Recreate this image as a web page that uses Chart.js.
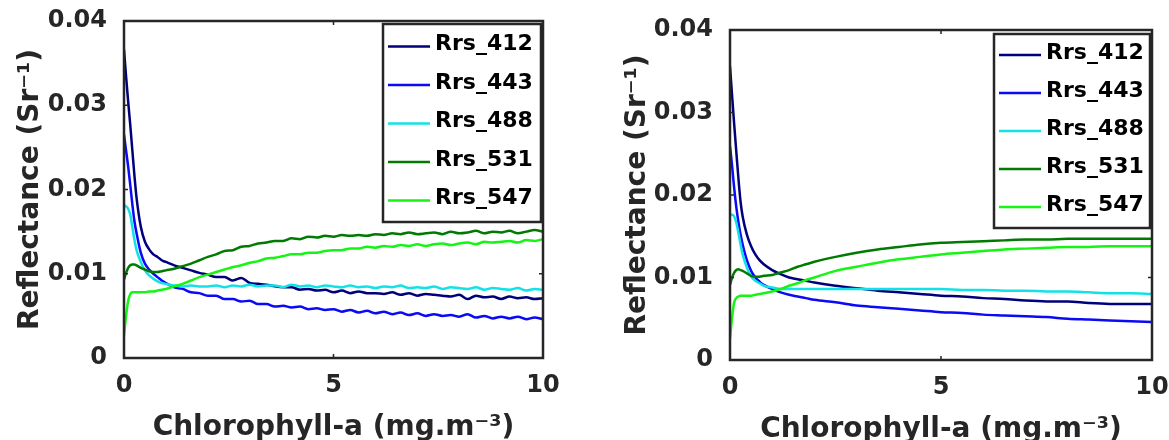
<!DOCTYPE html>
<html>
<head>
<meta charset="utf-8">
<script src="https://cdn.jsdelivr.net/npm/chart.js@4.4.1/dist/chart.umd.min.js"></script>
<style>
  html, body { margin: 0; padding: 0; background: #fff; }
  #wrap { position: relative; width: 1169px; height: 440px; }
  .panel { position: absolute; top: 0; width: 585px; height: 440px; }
</style>
</head>
<body>
<div id="wrap">
  <div class="panel" style="left:0"><canvas id="left" width="585" height="440"></canvas></div>
  <div class="panel" style="left:584px"><canvas id="right" width="585" height="440"></canvas></div>
</div>
<script>
// --- data ---
const bandLabels = ['Rrs_412', 'Rrs_443', 'Rrs_488', 'Rrs_531', 'Rrs_547'];
const bandColors = ['#00007a', '#0a0af5', '#12e2e8', '#007a00', '#14f514'];
const xTicks = [0, 5, 10];
const yTicks = [0, 0.01, 0.02, 0.03, 0.04];

// left panel (noisy)
const chlLeft = [0, 0.05, 0.1, 0.15, 0.2, 0.25, 0.3, 0.4, 0.5, 0.6, 0.7, 0.8, 0.9,
  1, 1.2, 1.4, 1.6, 1.8, 2, 2.2, 2.4, 2.6, 2.8, 3, 3.2, 3.4, 3.6, 3.8, 4, 4.2, 4.4, 4.6, 4.8,
  5, 5.2, 5.4, 5.6, 5.8, 6, 6.2, 6.4, 6.6, 6.8, 7, 7.2, 7.4, 7.6, 7.8, 8, 8.2, 8.4, 8.6, 8.8,
  9, 9.2, 9.4, 9.6, 9.8, 10];
const rrs412Left = [0.0366, 0.0334, 0.0304, 0.0276, 0.0246, 0.0216, 0.0190, 0.0156, 0.0138, 0.0129, 0.0123, 0.0120, 0.0116,
  0.0114, 0.0110, 0.0107, 0.0104, 0.0101, 0.0099, 0.0096, 0.0096, 0.0092, 0.0095, 0.0089, 0.0088, 0.0087, 0.0085, 0.0084, 0.0084,
  0.0081, 0.0082, 0.0080, 0.0081, 0.0078, 0.0080, 0.0077, 0.0079, 0.0077, 0.0077, 0.0076, 0.0078, 0.0075, 0.0077, 0.0074, 0.0076,
  0.0075, 0.0074, 0.0073, 0.0075, 0.0070, 0.0074, 0.0072, 0.0073, 0.0070, 0.0073, 0.0071, 0.0072, 0.0070, 0.0071];
const rrs443Left = [0.0265, 0.0246, 0.0227, 0.0205, 0.0182, 0.0162, 0.0148, 0.0125, 0.0112, 0.0105, 0.0100, 0.0096, 0.0092,
  0.0089, 0.0084, 0.0082, 0.0078, 0.0077, 0.0074, 0.0074, 0.0070, 0.0070, 0.0067, 0.0068, 0.0064, 0.0064, 0.0061, 0.0062, 0.0060,
  0.0061, 0.0058, 0.0059, 0.0057, 0.0058, 0.0055, 0.0057, 0.0054, 0.0056, 0.0053, 0.0055, 0.0052, 0.0054, 0.0051, 0.0053, 0.0050,
  0.0052, 0.0050, 0.0051, 0.0049, 0.0052, 0.0048, 0.0050, 0.0047, 0.0049, 0.0047, 0.0049, 0.0046, 0.0048, 0.0046];
const rrs488Left = [0.0182, 0.0180, 0.0177, 0.0170, 0.0155, 0.0140, 0.0128, 0.0114, 0.0104, 0.0098, 0.0094, 0.0091, 0.0089,
  0.0088, 0.0086, 0.0085, 0.0086, 0.0085, 0.0085, 0.0086, 0.0084, 0.0086, 0.0085, 0.0087, 0.0085, 0.0086, 0.0086, 0.0084, 0.0087,
  0.0085, 0.0086, 0.0084, 0.0086, 0.0085, 0.0084, 0.0086, 0.0084, 0.0085, 0.0083, 0.0085, 0.0084, 0.0086, 0.0083, 0.0084, 0.0083,
  0.0085, 0.0082, 0.0084, 0.0083, 0.0082, 0.0084, 0.0081, 0.0083, 0.0082, 0.0081, 0.0083, 0.0080, 0.0082, 0.0081];
const rrs531Left = [0.0093, 0.0101, 0.0107, 0.0110, 0.0111, 0.0111, 0.0110, 0.0107, 0.0105, 0.0103, 0.0102, 0.0102, 0.0103,
  0.0104, 0.0106, 0.0109, 0.0112, 0.0116, 0.0120, 0.0123, 0.0127, 0.0128, 0.0132, 0.0133, 0.0136, 0.0137, 0.0139, 0.0139, 0.0142,
  0.0141, 0.0144, 0.0143, 0.0145, 0.0144, 0.0146, 0.0145, 0.0146, 0.0145, 0.0147, 0.0146, 0.0148, 0.0147, 0.0149, 0.0147, 0.0148,
  0.0149, 0.0147, 0.0150, 0.0148, 0.0149, 0.0151, 0.0148, 0.0150, 0.0149, 0.0151, 0.0148, 0.0150, 0.0152, 0.0150];
const rrs547Left = [0.0027, 0.0050, 0.0068, 0.0076, 0.0078, 0.0078, 0.0078, 0.0078, 0.0078, 0.0079, 0.0079, 0.0080, 0.0081,
  0.0082, 0.0085, 0.0088, 0.0092, 0.0096, 0.0099, 0.0102, 0.0105, 0.0108, 0.0110, 0.0113, 0.0115, 0.0118, 0.0119, 0.0121, 0.0123,
  0.0123, 0.0125, 0.0125, 0.0127, 0.0128, 0.0128, 0.0130, 0.0130, 0.0132, 0.0131, 0.0133, 0.0132, 0.0134, 0.0133, 0.0135, 0.0133,
  0.0135, 0.0136, 0.0134, 0.0136, 0.0137, 0.0135, 0.0138, 0.0137, 0.0138, 0.0139, 0.0137, 0.0140, 0.0139, 0.0141];

// right panel (smooth)
const chlRight = [0, 0.05, 0.1, 0.15, 0.2, 0.25, 0.3, 0.4, 0.5, 0.6, 0.7, 0.8,
  1, 1.2, 1.4, 1.6, 1.8, 2, 2.5, 3, 3.5, 4, 4.5, 5, 5.5, 6, 6.5, 7, 7.5, 8, 8.5, 9, 9.5, 10];
const rrs412Right = [0.0356, 0.0320, 0.0285, 0.0252, 0.0220, 0.0192, 0.0174, 0.0152, 0.0138, 0.0128, 0.0121, 0.0116,
  0.0109, 0.0104, 0.0100, 0.0098, 0.0096, 0.0094, 0.0090, 0.0087, 0.0084, 0.0082, 0.0080, 0.0078, 0.0077, 0.0075,
  0.0074, 0.0072, 0.0071, 0.0071, 0.0069, 0.0068, 0.0068, 0.0068];
const rrs443Right = [0.0259, 0.0235, 0.0208, 0.0185, 0.0167, 0.0152, 0.0140, 0.0121, 0.0108, 0.0100, 0.0095, 0.0091,
  0.0086, 0.0082, 0.0079, 0.0077, 0.0075, 0.0073, 0.0070, 0.0066, 0.0064, 0.0062, 0.0060, 0.0058, 0.0057, 0.0055,
  0.0054, 0.0053, 0.0052, 0.0050, 0.0049, 0.0048, 0.0047, 0.0046];
const rrs488Right = [0.0176, 0.0176, 0.0174, 0.0166, 0.0154, 0.0140, 0.0128, 0.0112, 0.0101, 0.0096, 0.0093, 0.0090,
  0.0088, 0.0086, 0.0086, 0.0086, 0.0086, 0.0086, 0.0086, 0.0086, 0.0086, 0.0086, 0.0086, 0.0086, 0.0085, 0.0085,
  0.0084, 0.0084, 0.0083, 0.0083, 0.0082, 0.0081, 0.0081, 0.0080];
const rrs531Right = [0.0091, 0.0100, 0.0106, 0.0109, 0.0110, 0.0109, 0.0108, 0.0105, 0.0102, 0.0101, 0.0101, 0.0102,
  0.0103, 0.0106, 0.0109, 0.0113, 0.0116, 0.0119, 0.0125, 0.0130, 0.0134, 0.0137, 0.0140, 0.0142, 0.0143, 0.0144,
  0.0145, 0.0146, 0.0146, 0.0147, 0.0147, 0.0147, 0.0147, 0.0147];
const rrs547Right = [0.0026, 0.0052, 0.0070, 0.0075, 0.0077, 0.0078, 0.0078, 0.0078, 0.0078, 0.0079, 0.0080, 0.0081,
  0.0083, 0.0086, 0.0090, 0.0093, 0.0097, 0.0100, 0.0108, 0.0113, 0.0118, 0.0122, 0.0125, 0.0128, 0.0130, 0.0132,
  0.0134, 0.0135, 0.0136, 0.0137, 0.0137, 0.0138, 0.0138, 0.0138];

const FONT = 'DejaVu Sans';
const INK = '#262626';

// axes box with inward ticks (matlab style)
const framePlugin = {
  id: 'frame',
  afterDatasetsDraw(chart) {
    const { ctx, chartArea: a, scales } = chart;
    ctx.save();
    ctx.strokeStyle = INK;
    ctx.lineWidth = 2.5;
    ctx.strokeRect(a.left, a.top, a.right - a.left, a.bottom - a.top);
    ctx.lineWidth = 1.5;
    ctx.beginPath();
    scales.x.ticks.forEach(t => {
      const px = scales.x.getPixelForValue(t.value);
      if (px <= a.left + 2 || px >= a.right - 2) return;
      ctx.moveTo(px, a.bottom); ctx.lineTo(px, a.bottom - 4);
      ctx.moveTo(px, a.top); ctx.lineTo(px, a.top + 4);
    });
    scales.y.ticks.forEach(t => {
      const py = scales.y.getPixelForValue(t.value);
      if (py <= a.top + 2 || py >= a.bottom - 2) return;
      ctx.moveTo(a.left, py); ctx.lineTo(a.left + 4, py);
      ctx.moveTo(a.right, py); ctx.lineTo(a.right - 4, py);
    });
    ctx.stroke();
    ctx.restore();
  }
};

// boxed legend inside the top-right corner
const boxLegend = {
  id: 'boxLegend',
  afterDraw(chart, args, opts) {
    const { ctx, chartArea: a } = chart;
    const w = opts.width, h = opts.height;
    const x0 = a.right - opts.right - w, y0 = a.top + opts.top;
    ctx.save();
    ctx.fillStyle = '#fff';
    ctx.fillRect(x0, y0, w, h);
    ctx.strokeStyle = INK;
    ctx.lineWidth = 2.5;
    ctx.strokeRect(x0, y0, w, h);
    chart.data.datasets.forEach((ds, i) => {
      const ly = y0 + opts.first + i * opts.step;
      ctx.strokeStyle = ds.borderColor;
      ctx.lineWidth = 2.5;
      ctx.beginPath();
      ctx.moveTo(x0 + 5, ly); ctx.lineTo(x0 + 47, ly);
      ctx.stroke();
      ctx.fillStyle = '#000';
      ctx.font = 'bold 22px "' + FONT + '"';
      ctx.textBaseline = 'alphabetic';
      ctx.fillText(ds.label, x0 + 52, ly + 3.5);
    });
    ctx.restore();
  }
};

function makeChart(id, xs, series, lay) {
  const datasets = series.map((vals, i) => ({
    label: bandLabels[i],
    data: xs.map((x, k) => ({ x: x, y: vals[k] })),
    borderColor: bandColors[i],
    backgroundColor: bandColors[i],
    borderWidth: 2.5,
    pointRadius: 0,
    cubicInterpolationMode: 'monotone',
    order: series.length - i
  }));

  return new Chart(document.getElementById(id), {
    type: 'line',
    data: { datasets },
    options: {
      animation: false,
      responsive: false,
      devicePixelRatio: 1,
      layout: { padding: { top: lay.padTop, right: lay.padRight, left: 0, bottom: 0 } },
      plugins: {
        legend: { display: false },
        tooltip: { enabled: false },
        boxLegend: lay.legend
      },
      scales: {
        x: {
          type: 'linear',
          min: 0, max: 10,
          afterBuildTicks: s => { s.ticks = xTicks.map(v => ({ value: v })); },
          grid: { display: false },
          border: { display: false },
          ticks: {
            color: INK, padding: 5,
            font: { family: FONT, size: 24, weight: 'bold' },
            maxRotation: 0
          },
          title: {
            display: true, text: 'Chlorophyll-a (mg.m\u207B\u00B3)', color: INK,
            font: { family: FONT, size: 28, weight: 'bold', lineHeight: lay.xTitleLH },
            padding: { top: 0, bottom: 0 }
          },
          // fixed height, and let layout.padding alone set the right edge
          afterFit: s => { s.height = lay.xHeight; s.paddingLeft = 0; s.paddingRight = 0; }
        },
        y: {
          min: 0, max: 0.04,
          afterBuildTicks: s => { s.ticks = yTicks.map(v => ({ value: v })); },
          grid: { display: false },
          border: { display: false },
          ticks: {
            color: INK, padding: 9,
            font: { family: FONT, size: 24, weight: 'bold' },
            callback: v => (v === 0 ? '0' : v.toFixed(2))
          },
          title: {
            display: true, text: 'Reflectance (Sr\u207B\u00B9)', color: INK,
            font: { family: FONT, size: 28, weight: 'bold' },
            padding: { top: lay.yTitlePad, bottom: 0 }
          },
          afterFit: s => { s.width = lay.yWidth; s.paddingTop = 0; s.paddingBottom = 0; }
        }
      }
    },
    plugins: [framePlugin, boxLegend]
  });
}

makeChart('left', chlLeft, [rrs412Left, rrs443Left, rrs488Left, rrs531Left, rrs547Left], {
  padTop: 21, padRight: 42, yWidth: 124, xHeight: 82, yTitlePad: 14, xTitleLH: 0.86,
  legend: { width: 158, height: 198, right: 2, top: 3, first: 22.5, step: 38.5 }
});
makeChart('right', chlRight, [rrs412Right, rrs443Right, rrs488Right, rrs531Right, rrs547Right], {
  padTop: 30, padRight: 17, yWidth: 146, xHeight: 80, yTitlePad: 37, xTitleLH: 0.74,
  legend: { width: 156, height: 194, right: 2, top: 4, first: 21, step: 38 }
});
</script>
</body>
</html>
